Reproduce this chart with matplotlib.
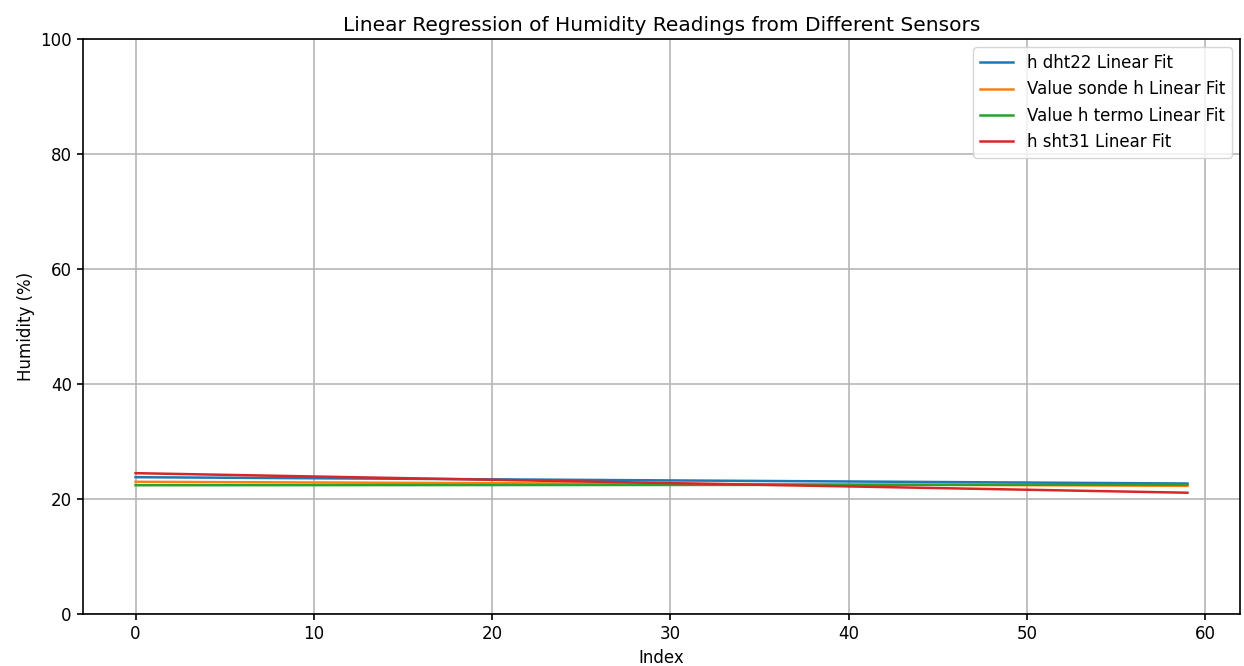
import matplotlib.pyplot as plt
import numpy as np

# Концы линий регрессии (индекс 0 и 59)
index_ends = [0, 59]
labels = ['h dht22 Linear Fit', 'Value sonde h Linear Fit',
          'Value h termo Linear Fit', 'h sht31 Linear Fit']
dht22_fit = [23.8, 22.7]
sonde_fit = [23.0, 22.3]
termo_fit = [22.4, 22.5]
sht31_fit = [24.5, 21.1]

fig, ax = plt.subplots(figsize=(12.44, 6.66), dpi=100)
fig.subplots_adjust(left=0.0667, right=0.9968, top=0.9414, bottom=0.078)

for vals, lab in zip([dht22_fit, sonde_fit, termo_fit, sht31_fit], labels):
    ax.plot(index_ends, np.array(vals), label=lab, linewidth=1.8)

ax.set_ylim(0, 100)
ax.set_xlim(-2.95, 61.95)
ax.set_xlabel('Index', fontsize=12)
ax.set_ylabel('Humidity (%)', fontsize=12)
ax.set_title('Linear Regression of Humidity Readings from Different Sensors', fontsize=14.5)
ax.tick_params(labelsize=12, length=4.5, width=1.2)
for s in ax.spines.values():
    s.set_linewidth(1.2)
ax.grid(True, linewidth=1.1)
ax.legend(loc='upper right', fontsize=12)

plt.savefig('out.png')
